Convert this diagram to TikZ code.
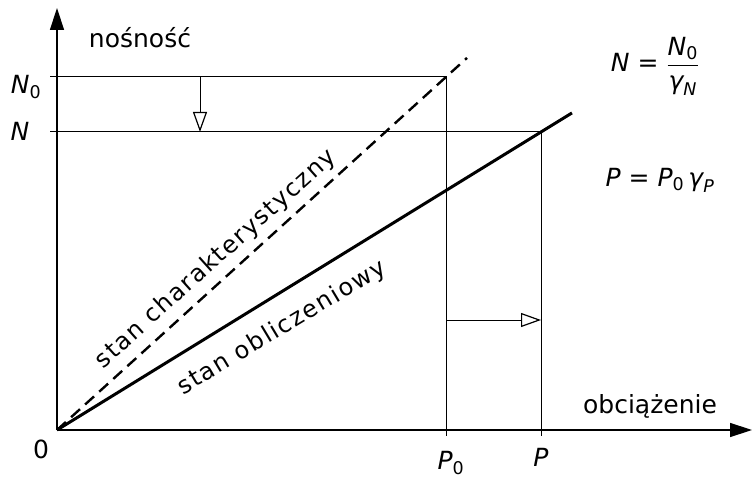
\documentclass[tikz,border=0pt]{standalone}
\usepackage{fontspec}
\usepackage{amsmath}
\setmainfont{DejaVu Sans}
\usetikzlibrary{arrows.meta,calc}
\newcommand{\iN}{\text{\itshape N}}
\newcommand{\iP}{\text{\itshape P}}
\newcommand{\ig}{\text{\itshape γ}}
\newcommand{\zr}{\text{0}}
\begin{document}
\begin{tikzpicture}[x=1pt,y=-1pt,
  axisline/.style={line width=1.4pt},
  thinline/.style={line width=1pt},
  thickline/.style={line width=3pt},
  dashline/.style={line width=2.4pt,dash pattern=on 12pt off 7pt},
  lbl/.style={inner sep=0pt,font=\fontsize{25}{30}\selectfont},
  slbl/.style={inner sep=0pt,font=\fontsize{24}{28}\selectfont\addfontfeature{LetterSpace=7}},
  openhead/.style={-{Triangle[open,length=20pt,width=14pt,line width=1.2pt]}},
  filledhead/.style={-{Triangle[length=22pt,width=14pt]}}
]
\useasboundingbox (0,0) rectangle (753,484);
\fill[white] (0,0) rectangle (753,484);
% coordinates
\coordinate (O) at (57,430);
\coordinate (ytop) at (57,8);
\coordinate (xend) at (752,430);
\coordinate (N0l) at (50,77);
\coordinate (N0r) at (446,77);
\coordinate (Nl) at (50,132);
\coordinate (Nr) at (541,132);
\coordinate (P0b) at (446,436);
\coordinate (Pb) at (541,436);
\coordinate (a1) at (200,77);
\coordinate (a2) at (200,132);
\coordinate (b1) at (446,320);
\coordinate (b2) at (541,320);
% axes
\draw[axisline,filledhead] (O) -- (ytop);
\draw[axisline,filledhead] (O) -- (xend);
% thin lines
\draw[thinline] (N0l) -- (N0r) -- (P0b);
\draw[thinline] (Nl) -- (Nr) -- (Pb);
% arrows
\draw[thinline,openhead] (a1) -- (a2);
\draw[thinline,openhead] (b1) -- (b2);
% characteristic lines
\draw[dashline] (O) -- ($(O)!1.054!(N0r)$);
\draw[thickline] (O) -- ($(O)!1.064!(Nr)$);
% labels
\node[lbl] (tnos) at (140,38) {nośność};
\node[lbl] (tN0) at (26,87) {$\iN_{\zr}$};
\node[lbl] (tN) at (20,131) {\itshape N};
\node[lbl] (t0) at (41,449) {0};
\node[lbl] (tP0) at (451,463) {$\iP_{\zr}$};
\node[lbl] (tP) at (541,457) {\itshape P};
\node[lbl] (tobc) at (650,406) {obciążenie};
\node[lbl] (eqN) at (655,66) {$\iN \text{ = } \dfrac{\iN_{\zr}}{\ig_{\iN}}$};
\node[lbl] (eqP) at (660,180) {$\iP \text{ = } \iP_{\zr}\,\ig_{\iP}$};
\node[slbl,rotate=42] (tchar) at (216,259) {stan charakterystyczny};
\node[slbl,rotate=31] (tobl) at (282,328) {stan obliczeniowy};
\end{tikzpicture}
\end{document}
